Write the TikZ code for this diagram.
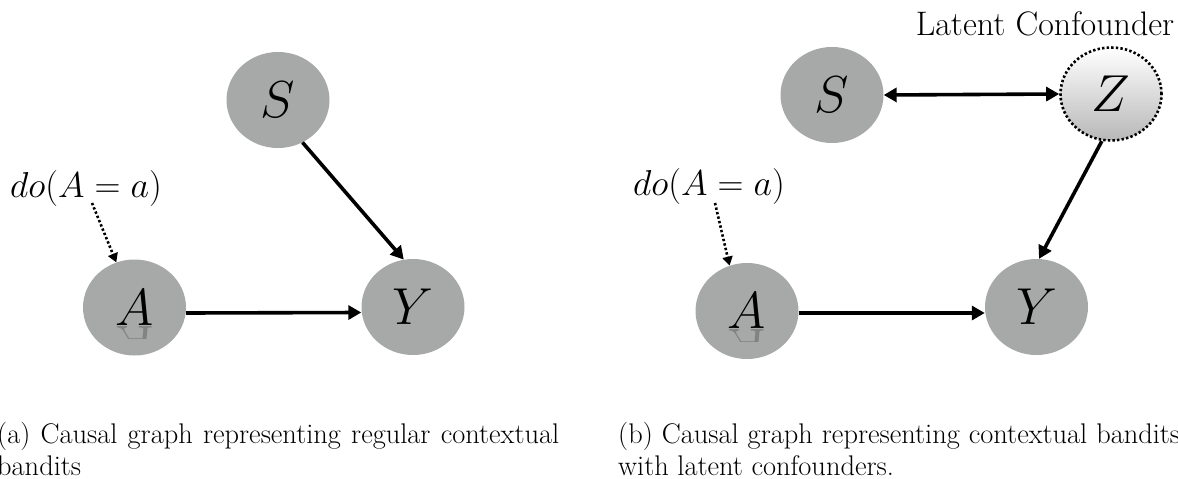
\RequirePackage{fix-cm}
\documentclass[tikz,border=0pt]{standalone}
\usetikzlibrary{arrows.meta,shapes.geometric}
\definecolor{nodegray}{RGB}{166,169,167}
\tikzset{
  var/.style={ellipse, fill=nodegray, minimum width=103pt, minimum height=96pt, inner sep=0pt, font=\fontsize{52}{60}\selectfont},
  latent/.style={ellipse, top color=white, bottom color=black!28, draw=black, line width=2.6pt, dash pattern=on 2.4pt off 2.2pt, minimum width=101pt, minimum height=93pt, inner sep=0pt, font=\fontsize{52}{60}\selectfont},
  edge/.style={line width=3.6pt, -{Triangle[length=13pt,width=14pt]}},
  biedge/.style={line width=3.6pt, {Triangle[length=13pt,width=14pt]}-{Triangle[length=13pt,width=14pt]}},
  doedge/.style={line width=2.6pt, dash pattern=on 2.4pt off 2.2pt, -{Triangle[length=9pt,width=10pt]}},
  dolabel/.style={anchor=base west, inner sep=0pt, font=\fontsize{36}{42}\selectfont},
  captext/.style={anchor=base west, inner sep=0pt, text width=562pt, align=justify, font=\fontsize{28.4}{32}\selectfont},
  refl/.style={anchor=north, inner sep=0pt, text=black, text opacity=0.22, font=\fontsize{52}{60}\selectfont}
}
\begin{document}
\begin{tikzpicture}[x=1pt,y=-1pt]
\useasboundingbox (0,0) rectangle (1178,479);
% ---- graph (a)
\node[var] (S1) at (278,100) {$S$};
\node[var] (A1) at (134.5,307.5) {$A$};
\node[var] (Y1) at (413,307) {$Y$};
\begin{scope}
  \clip (100,326) rectangle (170,338);
  \node[refl] (RA1) at (134.5,326) {\scalebox{1}[-1]{$A$}};
\end{scope}
\node[dolabel] (D1) at (10,197) {$do(A = a)$};
\coordinate (d1) at (92,203);
\draw[edge] ([yshift=-5.5pt]A1.east) -- ([yshift=-5.5pt]Y1.west);
\draw[edge] (S1.-60) -- (Y1.101);
\draw[doedge] (d1) -- (A1.112);
% ---- graph (b)
\node[var] (S2) at (832,95) {$S$};
\node[latent] (Z2) at (1111,94) {$Z$};
\node[var] (A2) at (747,311) {$A$};
\node[var] (Y2) at (1036.5,307) {$Y$};
\begin{scope}
  \clip (710,329) rectangle (790,341);
  \node[refl] (RA2) at (747,329.5) {\scalebox{1}[-1]{$A$}};
\end{scope}
\node[anchor=base, inner sep=0pt, font=\fontsize{34}{40}\selectfont] (L2) at (1045,35) {Latent Confounder};
\node[dolabel] (D2) at (633,195) {$do(A = a)$};
\coordinate (d2) at (715,203);
\draw[biedge] (S2.east) -- (Z2.west);
\draw[edge] (Z2.259) -- (Y2.87);
\draw[edge] ([yshift=-2pt]A2.east) -- ([yshift=-6pt]Y2.west);
\draw[doedge] (d2) -- (A2.111);
% ---- captions
\node[captext] (C1) at (-3,443) {(a) Causal graph representing regular contextual\linebreak bandits};
\node[captext] (C2) at (618,443) {(b) Causal graph representing contextual bandits\linebreak with latent confounders.};
\end{tikzpicture}
\end{document}
